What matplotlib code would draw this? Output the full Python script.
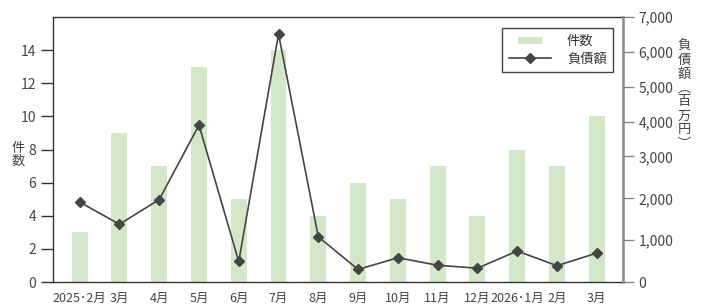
import numpy as np
import matplotlib
matplotlib.use("Agg")
import matplotlib.pyplot as plt
from matplotlib.patches import Rectangle, Patch
from matplotlib.lines import Line2D
from matplotlib.legend_handler import HandlerPatch

plt.rcParams['font.family'] = ['Noto Sans CJK JP', 'DejaVu Sans']

months = ["2025･2月", "3月", "4月", "5月", "6月", "7月", "8月", "9月",
          "10月", "11月", "12月", "2026･1月", "2月", "3月"]
counts = [3, 9, 7, 13, 5, 14, 4, 6, 5, 7, 4, 8, 7, 10]
debt = [1910, 1380, 1970, 3900, 490, 6510, 1080, 300, 580, 400, 330, 740, 390, 690]
left_ticks = [0, 2, 4, 6, 8, 10, 12, 14]
right_ticks = [0, 1000, 2000, 3000, 4000, 5000, 6000, 7000]

BAR = '#d3e8c9'
LINE = '#444444'
TXT = '#444444'

fig = plt.figure(figsize=(7.03, 3.04), dpi=100)
ax = fig.add_axes([53/703, 22/304, 570/703, 265/304])
x = np.arange(len(months))
ax.bar(x, counts, width=0.4, color=BAR, zorder=1)
ax.set_xlim(-0.67, len(months) - 0.34)
ax.set_ylim(0, 16)
ax.set_yticks(left_ticks)
ax.set_xticks(x)
ax.set_xticklabels(months)
ax.tick_params(axis='x', length=0, pad=7, labelsize=9, labelcolor=TXT)
ax.tick_params(axis='y', direction='out', length=9, width=1, color='#333333',
               pad=3, labelsize=10, labelcolor=TXT)
for s in ['left', 'bottom', 'top']:
    ax.spines[s].set_color('#333333')
    ax.spines[s].set_linewidth(1)
ax.spines['right'].set_visible(False)

ax2 = ax.twinx()

def fwd(v):
    v = np.asarray(v, dtype=float)
    return np.where(v <= 3000, v * 0.042, 126 + (v - 3000) * 0.035)

def inv(y):
    y = np.asarray(y, dtype=float)
    return np.where(y <= 126, y / 0.042, 3000 + (y - 126) / 0.035)

ax2.set_yscale('function', functions=(fwd, inv))
ax2.plot(x, debt, color=LINE, lw=1.2, marker='D', markersize=5.5, zorder=3)
ax2.set_ylim(0, 7000)
ax2.set_yticks(right_ticks)
ax2.set_yticklabels([f"{t:,}" for t in right_ticks])
ax2.yaxis.set_minor_locator(matplotlib.ticker.NullLocator())
ax2.tick_params(axis='y', direction='out', length=8, width=1, color='#888888',
                pad=3, labelsize=10, labelcolor=TXT)
ax2.spines['right'].set_color('#888888')
ax2.spines['right'].set_linewidth(1.8)
for s in ['left', 'bottom', 'top']:
    ax2.spines[s].set_visible(False)

def make_patch(legend, orig_handle, xdescent, ydescent, width, height, fontsize):
    w = width * 0.58
    h = height * 0.75
    return Rectangle((-xdescent + (width - w) / 2, -ydescent + (height - h) / 2), w, h)

h_bar = Patch(facecolor=BAR, edgecolor='none')
h_line = Line2D([], [], color=LINE, lw=1.2, marker='D', markersize=5.5)
leg = ax2.legend([h_bar, h_line], ["件数", "負債額"], loc='upper right',
                 bbox_to_anchor=(0.983, 0.958), borderaxespad=0,
                 fontsize=9.5, handlelength=3.2, handletextpad=1.2,
                 labelspacing=0.35, borderpad=0.5, fancybox=False,
                 framealpha=1, edgecolor='#444444',
                 handler_map={Patch: HandlerPatch(patch_func=make_patch)})
leg.get_frame().set_linewidth(1)
for t in leg.get_texts():
    t.set_color('#333333')

fig.text(18/703, 1 - 155/304, "件\n数", ha='center', va='center',
         fontsize=9.5, color=TXT, linespacing=1.0)
fig.text(684/703, 1 - 95/304, "負\n債\n額\n︵\n百\n万\n円\n︶", ha='center',
         va='center', fontsize=9.5, color=TXT, linespacing=1.1)

fig.savefig("out.png", dpi=100)
